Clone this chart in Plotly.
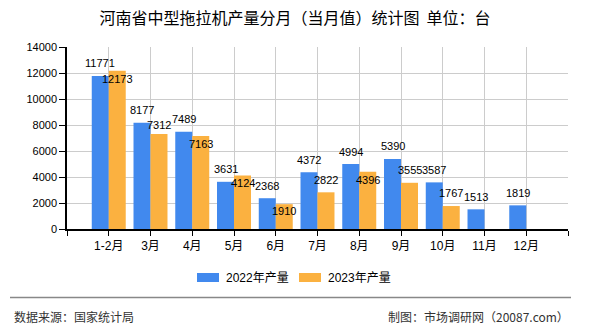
import plotly.graph_objects as go

months = ["1-2月", "3月", "4月", "5月", "6月", "7月", "8月", "9月", "10月", "11月", "12月"]
prod_2022 = [11771, 8177, 7489, 3631, 2368, 4372, 4994, 5390, 3587, 1513, 1819]
prod_2023 = [12173, 7312, 7163, 4124, 1910, 2822, 4396, 3555, 1767, None, None]
series_names = ["2022年产量", "2023年产量"]
colors = ["#4189EE", "#FBB140"]
# label vertical shifts (px) for readability, as in the reference
shift_2022 = [12.5] * 11
shift_2023 = [-8, 9, -8.5, -8, -7, 12, -8, 12.5, 13, 0, 0]

W, H = 590, 330
L, R, T, B = 67, 22, 47, 101
pw, ph = W - L - R, H - T - B
bargap = 0.186

def px(x):
    return (x - L) / pw

def py(y):
    return (H - B - y) / ph

FONT = "Liberation Sans, Noto Sans CJK SC, sans-serif"
CJK = "Noto Sans CJK SC, sans-serif"

xs = list(range(len(months)))
fig = go.Figure()
fig.add_trace(go.Bar(x=xs, y=prod_2022, name=series_names[0], marker_color=colors[0],
                     marker_line_width=0, showlegend=False))
fig.add_trace(go.Bar(x=xs, y=prod_2023, name=series_names[1], marker_color=colors[1],
                     marker_line_width=0, showlegend=False))

half = (1 - bargap) / 4
ann = []
for i, v in enumerate(prod_2022):
    if v is not None:
        ann.append(dict(x=i - half, y=v, xref="x", yref="y", text=str(v), showarrow=False,
                        yshift=shift_2022[i], font=dict(family=FONT, size=11, color="#000")))
for i, v in enumerate(prod_2023):
    if v is not None:
        ann.append(dict(x=i + half, y=v, xref="x", yref="y", text=str(v), showarrow=False,
                        yshift=shift_2023[i], font=dict(family=FONT, size=11, color="#000")))

# legend (manual, to match rectangular swatches)
shapes = []
leg = [(197, 219, 224), (299, 321, 326)]
for (x0, x1, tx), name, c in zip(leg, series_names, colors):
    shapes.append(dict(type="rect", xref="paper", yref="paper", x0=px(x0), x1=px(x1),
                       y0=py(282), y1=py(273), fillcolor=c, line_width=0))
    ann.append(dict(x=px(tx), y=py(277.5), xref="paper", yref="paper", text=name, showarrow=False,
                    xanchor="left", yanchor="middle", font=dict(family=FONT, size=12, color="#000")))

# separator line
shapes.append(dict(type="line", xref="paper", yref="paper", x0=px(10), x1=px(571),
                   y0=py(297.5), y1=py(297.5), line=dict(color="#888888", width=1.5)))

ann.append(dict(x=px(12), y=py(316), xref="paper", yref="paper", text="数据来源：国家统计局",
                showarrow=False, xanchor="left", yanchor="middle",
                font=dict(family=CJK, size=12, color="#333")))
ann.append(dict(x=px(571), y=py(316), xref="paper", yref="paper", text="制图：市场调研网（20087.com）",
                showarrow=False, xanchor="right", yanchor="middle",
                font=dict(family=CJK, size=12, color="#333")))

fig.update_layout(
    width=W, height=H,
    margin=dict(l=L, r=R, t=T, b=B, pad=0),
    paper_bgcolor="white", plot_bgcolor="white",
    barmode="group", bargap=bargap, bargroupgap=0,
    title=dict(text="河南省中型拖拉机产量分月（当月值）统计图  单位：台", x=0.5, xref="container",
               xanchor="center", y=1 - 18.5 / H, yanchor="middle",
               font=dict(family=CJK, size=16, color="#000")),
    annotations=ann, shapes=shapes,
)
fig.update_xaxes(range=[-1, len(months)], tickmode="array",
                 tickvals=list(range(-1, len(months) + 1)),
                 ticktext=[""] + months + [""],
                 showgrid=True, gridcolor="#cccccc", gridwidth=1,
                 showline=True, linecolor="#000", linewidth=1.5,
                 ticks="outside", ticklen=5, tickcolor="#000",
                 tickfont=dict(family=FONT, size=12, color="#000"), zeroline=False)
fig.update_yaxes(range=[0, 14000], dtick=2000, tickmode="linear", tickformat="d",
                 showgrid=True, gridcolor="#cccccc", gridwidth=1,
                 showline=True, linecolor="#000", linewidth=1.5,
                 ticks="outside", ticklen=6, tickcolor="#000",
                 tickfont=dict(family=FONT, size=11, color="#000"), zeroline=False)

fig.write_html("out.html")
